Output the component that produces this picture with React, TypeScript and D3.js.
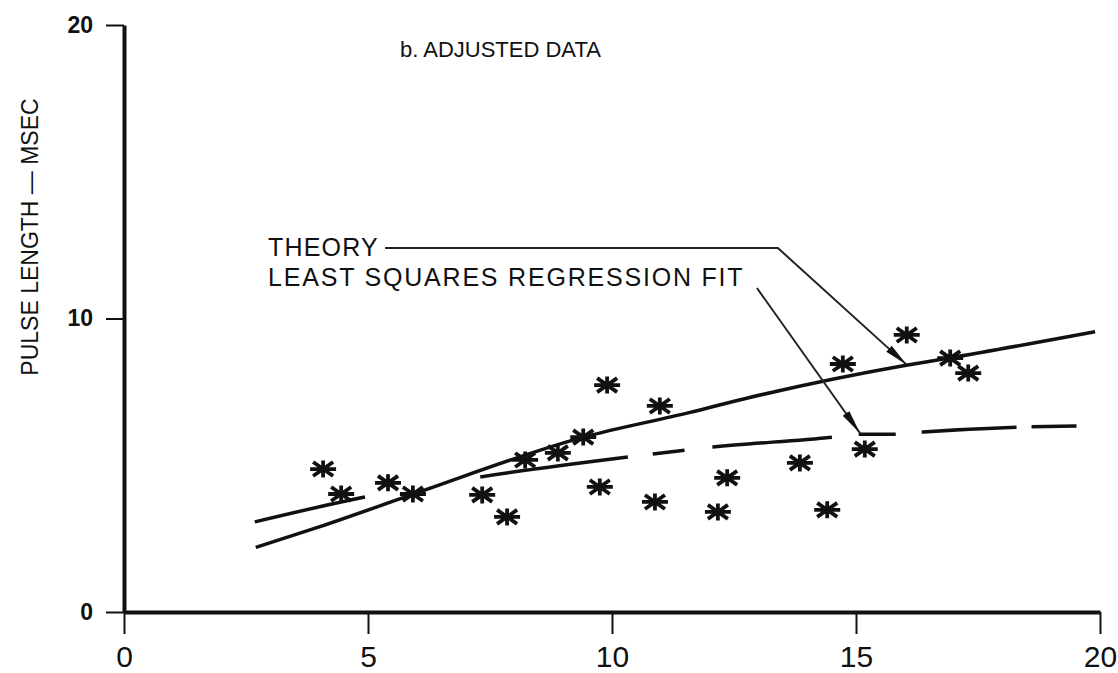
import React, { useEffect, useRef } from "react";
import * as d3 from "d3";

const obsX = [4.08, 4.45, 5.41, 5.92, 7.34, 7.85, 8.22, 8.89, 9.41, 9.9, 9.75, 10.98, 10.88, 12.36, 12.17, 13.85, 14.41, 14.73, 15.18, 16.04, 16.93, 17.3];
const obsY = [4.87, 4.02, 4.4, 4.02, 3.99, 3.24, 5.18, 5.42, 5.96, 7.73, 4.26, 7.02, 3.75, 4.57, 3.41, 5.08, 3.48, 8.45, 5.55, 9.44, 8.65, 8.14];

// theory curve
const theoryX = [2.7, 4.0, 5.9, 9.4, 11.6, 12.8, 16.0, 16.9, 19.9];
const theoryY = [2.2, 2.9, 4.0, 5.95, 6.8, 7.3, 8.4, 8.65, 9.55];

// least squares regression fit
const fitX = [2.68, 4.94, 7.3, 10.33, 12.07, 14.53, 15.08, 15.84, 16.37, 18.32, 19.55];
const fitY = [3.07, 3.92, 4.6, 5.28, 5.62, 5.96, 6.06, 6.06, 6.13, 6.3, 6.34];

const xTicks = [0, 5, 10, 15, 20];
const yTicks = [0, 10, 20];

const W = 1118;
const H = 673;

const x = d3.scaleLinear().domain([0, 20]).range([124, 1100]);
const y = d3.scaleLinear().domain([0, 20]).range([612, 25]);

const line = d3
  .line<[number, number]>()
  .x((d) => x(d[0]))
  .y((d) => y(d[1]))
  .curve(d3.curveMonotoneX);

const starPath = "M-13,0L13,0M-10,-7L10,7M-10,7L10,-7M0,-8.5L0,8.5";

export default function App() {
  const xRef = useRef<SVGGElement>(null);
  const yRef = useRef<SVGGElement>(null);

  useEffect(() => {
    const gx = d3.select(xRef.current);
    gx.call(d3.axisBottom(x).tickValues(xTicks).tickSizeInner(22).tickSizeOuter(0).tickPadding(12).tickFormat(d3.format("d")));
    gx.select(".domain").attr("stroke", "#111").attr("stroke-width", 4);
    gx.selectAll(".tick line").attr("stroke", "#111").attr("stroke-width", 2);
    gx.selectAll(".tick text")
      .attr("font-family", "'Liberation Sans Narrow', 'Arial Narrow', 'Liberation Sans', sans-serif")
      .attr("font-size", 30)
      .attr("fill", "#111");

    const gy = d3.select(yRef.current);
    gy.call(d3.axisLeft(y).tickValues(yTicks).tickSizeInner(18).tickSizeOuter(0).tickPadding(13).tickFormat(d3.format("d")));
    gy.select(".domain").attr("stroke", "#111").attr("stroke-width", 4);
    gy.selectAll(".tick line").attr("stroke", "#111").attr("stroke-width", 2);
    gy.selectAll(".tick text")
      .attr("font-family", "'Liberation Sans', Arial, sans-serif")
      .attr("font-weight", "bold")
      .attr("font-size", 23)
      .attr("fill", "#111");
  }, []);

  const obs = obsX.map((v, i) => [v, obsY[i]] as [number, number]);
  const theory = theoryX.map((v, i) => [v, theoryY[i]] as [number, number]);
  const fit = fitX.map((v, i) => [v, fitY[i]] as [number, number]);

  const font = "'Liberation Sans', Arial, sans-serif";

  return (
    <svg width={W} height={H} style={{ position: "absolute", left: 0, top: 0, background: "#fff" }}>
      <defs>
        <marker id="head" viewBox="0 0 24 10" refX="24" refY="5" markerWidth="24" markerHeight="10" markerUnits="userSpaceOnUse" orient="auto">
          <path d="M0,1L24,5L0,9Z" fill="#111" />
        </marker>
      </defs>

      <g ref={xRef} transform={`translate(0,${y(0)})`} />
      <g ref={yRef} transform={`translate(${x(0)},0)`} />

      <text x={400} y={57} fontFamily={font} fontSize={22} fill="#111">
        b. ADJUSTED DATA
      </text>

      <text
        transform={`translate(38,${237}) rotate(-90)`}
        textAnchor="middle"
        fontFamily={font}
        fontSize={23}
        fill="#111"
      >
        PULSE LENGTH — MSEC
      </text>

      <path d={line(theory) ?? ""} fill="none" stroke="#111" strokeWidth={3.5} />
      <path
        d={line(fit) ?? ""}
        fill="none"
        stroke="#111"
        strokeWidth={3.5}
        strokeDasharray="113 117 149 25 32 28 120 27 37 26 95 15 45 100"
      />

      {obs.map((d, i) => (
        <path
          key={i}
          d={starPath}
          transform={`translate(${x(d[0])},${y(d[1])})`}
          stroke="#111"
          strokeWidth={3.8}
          fill="none"
        />
      ))}

      <text x={268} y={256} fontFamily={font} fontSize={25} letterSpacing={1.2} fill="#111">
        THEORY
      </text>
      <text x={268} y={286} fontFamily={font} fontSize={25} letterSpacing={1.8} fill="#111">
        LEAST SQUARES REGRESSION FIT
      </text>

      <path
        d={`M${x(5.35)},${y(12.4)}L${x(13.4)},${y(12.4)}L${x(16.04)},${y(8.42)}`}
        fill="none"
        stroke="#222"
        strokeWidth={2}
        markerEnd="url(#head)"
      />
      <path
        d={`M${x(12.97)},${y(11.04)}L${x(15.08)},${y(6.1)}`}
        fill="none"
        stroke="#222"
        strokeWidth={2}
        markerEnd="url(#head)"
      />
    </svg>
  );
}
